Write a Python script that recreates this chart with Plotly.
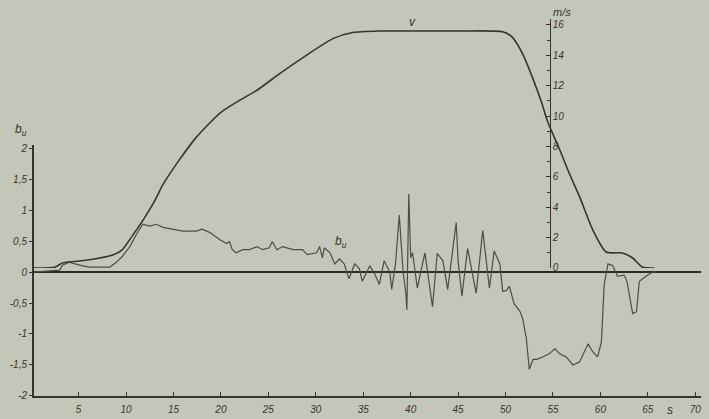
import plotly.graph_objects as go

# --- data ---
t_v = [0.3, 2.5, 3.3, 5.1, 7.2, 8.6, 9.6, 10.7, 11.8, 13.0, 13.9, 15.6, 17.4, 19.9,
       21.6, 23.8, 26.2, 29.0, 31.8, 33.9, 36.7, 40.0, 45.0, 49.7, 50.7, 51.8, 52.8,
       53.8, 54.4, 55.7, 56.7, 57.8, 59.2, 60.6, 62.3, 63.4, 64.4, 65.7]
v = [0, 0.05, 0.33, 0.46, 0.66, 0.86, 1.2, 2.15, 3.15, 4.4, 5.5, 7.1, 8.6, 10.2,
     10.9, 11.7, 12.8, 14.0, 15.1, 15.5, 15.6, 15.6, 15.6, 15.55, 15.2, 14.1, 12.6,
     10.9, 9.7, 7.8, 6.25, 4.7, 2.5, 1.05, 0.99, 0.66, 0.07, 0]

t_b = [0.3, 2.5, 3.0, 3.3, 4.0, 5.1, 6.1, 8.3, 9.0, 9.6, 10.4, 11.1, 11.75, 12.5, 13.2,
       13.9, 14.9, 16.0, 17.4, 18.0, 18.8, 19.9, 20.6, 20.9, 21.2, 21.6, 22.3, 23.0,
       23.8, 24.4, 25.1, 25.4, 25.9, 26.5, 27.6, 28.6, 29.1, 30.1, 30.4, 30.7, 30.9,
       31.5, 32.0, 32.5, 33.0, 33.5, 34.1, 34.6, 34.9, 35.7, 36.2, 36.7, 37.2, 37.8,
       38.0, 38.4, 38.8, 39.2, 39.5, 39.6, 39.8, 40.0, 40.2, 40.7, 41.5, 42.3, 42.8,
       43.4, 43.9, 44.4, 44.8, 45.0, 45.4, 46.0, 46.9, 47.6, 48.0, 48.3, 48.8, 49.4,
       49.7, 50.1, 50.4, 50.9, 51.5, 51.8, 52.2, 52.5, 52.9, 53.3, 53.9, 54.6, 55.2,
       55.7, 56.4, 57.1, 57.8, 58.3, 58.7, 59.2, 59.7, 60.1, 60.4, 60.8, 61.3, 61.8,
       62.5, 62.8, 63.4, 63.8, 64.1, 64.8, 65.5, 66.0]
b_u = [0, 0.02, 0.03, 0.11, 0.16, 0.11, 0.08, 0.08, 0.16, 0.25, 0.41, 0.61, 0.77, 0.74, 0.77,
       0.72, 0.69, 0.66, 0.66, 0.69, 0.64, 0.52, 0.46, 0.49, 0.36, 0.31, 0.36, 0.36,
       0.41, 0.36, 0.39, 0.49, 0.36, 0.41, 0.36, 0.36, 0.28, 0.31, 0.41, 0.23, 0.39,
       0.31, 0.13, 0.21, 0.13, -0.11, 0.13, 0.05, -0.15, 0.10, -0.03, -0.20, 0.18, 0.0,
       -0.28, 0.13, 0.92, 0.0, -0.36, -0.61, 1.26, 0.23, 0.31, -0.26, 0.31, -0.56, 0.30,
       0.18, -0.28, 0.31, 0.80, 0.18, -0.39, 0.38, -0.34, 0.67, 0.13, -0.26, 0.34, 0.13,
       -0.31, -0.30, -0.23, -0.51, -0.63, -0.75, -1.08, -1.57, -1.41, -1.41, -1.37, -1.32, -1.24,
       -1.32, -1.37, -1.50, -1.45, -1.29, -1.16, -1.29, -1.37, -1.13, -0.20, 0.13, 0.10, -0.07,
       -0.05, -0.15, -0.67, -0.64, -0.15, -0.07, 0.0, 0.0]

x_ticks = [5, 10, 15, 20, 25, 30, 35, 40, 45, 50, 55, 60, 65, 70]
b_ticks = [-2, -1.5, -1, -0.5, 0, 0.5, 1, 1.5, 2]
b_ticktext = ["-2", "-1,5", "-1", "-0,5", "0", "0,5", "1", "1,5", "2"]

BG = "#c5c6ba"
INK = "#35352f"
INK2 = "#4d4d46"
FONT = dict(family="Liberation Sans Narrow, Liberation Sans, DejaVu Sans", size=10,
            color=INK, style="italic")

fig = go.Figure()
fig.add_trace(go.Scatter(x=t_b, y=b_u, mode="lines", xaxis="x", yaxis="y",
                         line=dict(color=INK2, width=1.2), hoverinfo="skip"))
fig.add_trace(go.Scatter(x=t_v, y=v, mode="lines", xaxis="x", yaxis="y2",
                         line=dict(color=INK, width=1.6, shape="spline", smoothing=0.6),
                         hoverinfo="skip"))

fig.update_layout(
    width=709, height=419,
    margin=dict(l=34, r=8, t=10, b=23, autoexpand=False),
    paper_bgcolor=BG, plot_bgcolor="rgba(0,0,0,0)",
    showlegend=False,
    font=FONT,
    xaxis=dict(range=[0.3, 70.6], domain=[0, 1], anchor="y", automargin=False,
               tickvals=x_ticks, ticks="inside", ticklen=4, tickcolor=INK,
               showline=True, linecolor=INK, linewidth=1.5,
               showgrid=False, zeroline=False, tickfont=FONT, ticklabelstandoff=3),
    yaxis=dict(range=[-2, 2.05], domain=[0, 0.6505], anchor="x", automargin=False,
               tickvals=b_ticks, ticktext=b_ticktext, ticks="outside", ticklen=3,
               tickcolor=INK, showline=True, linecolor=INK, linewidth=2,
               showgrid=False, zeroline=True, zerolinecolor="#2a2a26", zerolinewidth=2.5,
               tickfont=FONT),
    yaxis2=dict(range=[0, 16.4], domain=[0.3316, 0.977], anchor="free", position=0.773,
                side="right", tickmode="linear", tick0=0, dtick=2, automargin=False,
                ticks="inside", ticklen=4, tickcolor=INK,
                minor=dict(dtick=1, ticks="inside", ticklen=3, tickcolor=INK),
                showline=True, linecolor=INK, linewidth=1.2,
                showgrid=False, zeroline=False, tickfont=FONT),
)

ann_font = dict(family="Liberation Sans Narrow, Liberation Sans, DejaVu Sans", size=12,
                color=INK, style="italic")
fig.add_annotation(text="b<sub>u</sub>", xref="paper", yref="paper", x=-0.02, y=0.69,
                   xanchor="center", yanchor="middle", showarrow=False, font=ann_font)
fig.add_annotation(text="b<sub>u</sub>", xref="x", yref="y", x=32.7, y=0.48,
                   showarrow=False, font=ann_font)
fig.add_annotation(text="v", xref="x", yref="y2", x=40.2, y=16.2,
                   showarrow=False, font=ann_font)
fig.add_annotation(text="m/s", xref="x", yref="paper", x=56.0, y=0.995,
                   showarrow=False, font=dict(ann_font, size=11), yanchor="middle")
fig.add_annotation(text="s", xref="x", yref="paper", x=67.3, y=-0.035,
                   showarrow=False, font=dict(ann_font, size=12), yanchor="middle")

fig.write_html("out.html",
               config={"displayModeBar": False, "staticPlot": True},
               post_script="document.body.style.margin='0px';"
                           "document.body.style.padding='0px';"
                           "document.body.style.overflow='hidden';"
                           "document.body.style.background='" + BG + "';")
